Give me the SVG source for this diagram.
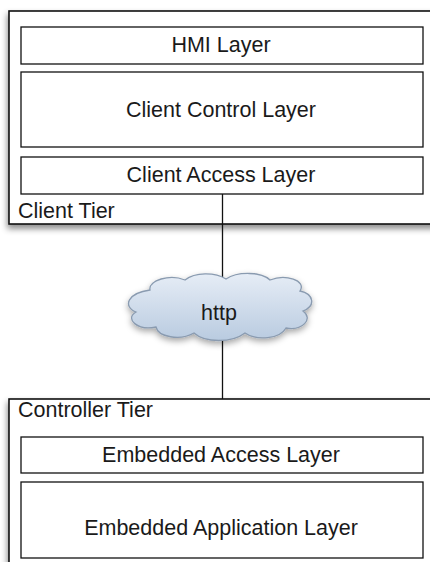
<svg xmlns="http://www.w3.org/2000/svg" width="430" height="562" viewBox="0 0 430 562">
<defs>
<filter id="sh" x="-10%" y="-10%" width="120%" height="130%">
<feDropShadow dx="-1" dy="4" stdDeviation="3" flood-color="#000" flood-opacity="0.45"/>
</filter>
<filter id="csh" x="-10%" y="-20%" width="120%" height="150%">
<feDropShadow dx="0" dy="3" stdDeviation="3" flood-color="#000" flood-opacity="0.35"/>
</filter>
<linearGradient id="cg" x1="0" y1="0" x2="0" y2="1">
<stop offset="0" stop-color="#e6edf6"/>
<stop offset="1" stop-color="#b9cbe0"/>
</linearGradient>
<style>
.tier{fill:#fff;stroke:#111;stroke-width:1.6}
.layer{fill:#fff;stroke:#111;stroke-width:1.3}
text{font-family:"Liberation Sans",Arial,sans-serif;font-size:21.5px;fill:#1a1a1a}
.c{text-anchor:middle}
.conn{stroke:#111;stroke-width:1.3;fill:none}
</style>
</defs>
<rect width="430" height="562" fill="#fff"/>
<g id="client-tier">
<rect class="tier" x="9" y="11" width="440" height="213" filter="url(#sh)"/>
<text x="18" y="218">Client Tier</text>
</g>
<g id="hmi-layer">
<rect class="layer" x="21" y="27" width="402" height="37"/>
<text class="c" x="221" y="52">HMI Layer</text>
</g>
<g id="client-control-layer">
<rect class="layer" x="21" y="72" width="402" height="75"/>
<text class="c" x="221" y="117">Client Control Layer</text>
</g>
<g id="client-access-layer">
<rect class="layer" x="21" y="157" width="402" height="37"/>
<text class="c" x="221" y="182">Client Access Layer</text>
</g>
<g id="connectors">
<line class="conn" x1="222.5" y1="194" x2="222.5" y2="277"/>
<line class="conn" x1="222.5" y1="340" x2="222.5" y2="436"/>
</g>
<g id="http">
<path d="M150,290 C148,280 170,274 185,280 C195,272 215,272 226,279 C238,271 262,272 270,280 C285,274 307,280 300,291 C314,294 316,306 303,311 C314,319 302,331 286,328 C280,339 257,341 245,333 C232,343 205,343 194,333 C180,341 158,337 156,327 C138,331 124,319 136,312 C122,306 128,293 150,290 Z" fill="url(#cg)" stroke="#8a9bb0" stroke-width="1.3" filter="url(#csh)"/>
<text class="c" x="219" y="320">http</text>
</g>
<g id="controller-tier">
<rect class="tier" x="9" y="399" width="440" height="200" filter="url(#sh)"/>
<text x="18" y="417">Controller Tier</text>
</g>
<g id="embedded-access-layer">
<rect class="layer" x="21" y="437" width="402" height="36"/>
<text class="c" x="221" y="462">Embedded Access Layer</text>
</g>
<g id="embedded-application-layer">
<rect class="layer" x="21" y="482" width="402" height="76"/>
<text class="c" x="221" y="535">Embedded Application Layer</text>
</g>
</svg>
